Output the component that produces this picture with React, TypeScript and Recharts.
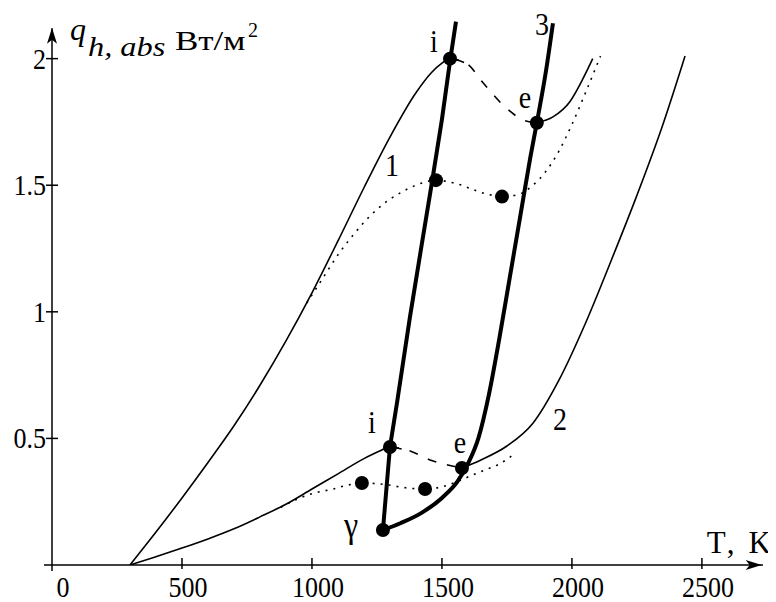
import React from 'react';
import { ComposedChart, Line, Scatter, XAxis, YAxis, ReferenceLine, ReferenceDot } from 'recharts';

// T (K), q (W/m^2) pairs
const curve1Left = [[300,0],[400,0.13],[500,0.265],[600,0.405],[700,0.55],[800,0.71],[900,0.885],[1000,1.075],[1100,1.28],[1200,1.49],[1300,1.69],[1400,1.865],[1460,1.945],[1500,1.982],[1531,2.0],[1585,1.985]];
const curve1Link = [[1531,2.0],[1596,1.98],[1658,1.905],[1742,1.81],[1819,1.755],[1865,1.747]];
const curve1Right = [[1865,1.747],[1927,1.77],[1992,1.83],[2042,1.92],[2080,2.0]];
const curve1Dotted = [[980,1.035],[1040,1.13],[1100,1.225],[1160,1.305],[1220,1.375],[1280,1.43],[1340,1.47],[1400,1.50],[1477,1.52],[1542,1.51],[1673,1.465],[1731,1.455],[1790,1.462],[1850,1.50],[1900,1.555],[1950,1.635],[2000,1.74],[2050,1.86],[2110,2.01]];

const curve2Left = [[300,0],[400,0.033],[500,0.067],[600,0.103],[700,0.143],[800,0.19],[900,0.24],[1000,0.30],[1100,0.36],[1200,0.42],[1260,0.45],[1300,0.466],[1345,0.458]];
const curve2Link = [[1300,0.466],[1365,0.455],[1454,0.415],[1577,0.383]];
const curve2Right = [[1577,0.383],[1650,0.415],[1750,0.47],[1850,0.56],[1950,0.73],[2050,0.95],[2150,1.2],[2250,1.46],[2350,1.74],[2435,2.01]];
const curve2Dotted = [[880,0.228],[942,0.26],[1004,0.283],[1081,0.30],[1135,0.315],[1192,0.324],[1280,0.318],[1360,0.305],[1435,0.30],[1504,0.31],[1560,0.33],[1619,0.356],[1665,0.375],[1723,0.40],[1780,0.44]];

const line3A = [[1273,0.138],[1300,0.466],[1327,0.64],[1377,0.98],[1419,1.245],[1462,1.514],[1500,1.76],[1531,1.99],[1554,2.146]];
const line3B = [[1273,0.138],[1340,0.165],[1420,0.205],[1500,0.265],[1560,0.33],[1600,0.40],[1640,0.50],[1680,0.67],[1720,0.89],[1760,1.13],[1800,1.37],[1840,1.61],[1865,1.747],[1900,1.95],[1927,2.14]];

const markers = [[1531,2.0],[1865,1.747],[1477,1.52],[1731,1.455],[1300,0.466],[1577,0.383],[1192,0.324],[1435,0.30],[1273,0.138]];

const curveLabels: [string, number, number][] = [
  ['i',1469,2.028],['e',1819,1.806],['3',1885,2.095],['1',1308,1.535],
  ['i',1231,0.522],['e',1569,0.443],['2',1954,0.534],['γ',1150,0.111],
];

const xTicks = [0,500,1000,1500,2000,2500];
const yTicks = [0,0.5,1,1.5,2];

const FONT = "'Liberation Serif', 'Times New Roman', serif";
const pts = (a: number[][]) => a.map(([T, q]) => ({ T, q }));

const XTick = (props: any) => {
  const { x, y, payload } = props;
  const v = payload.value;
  return (
    <g>
      {v === 0
        ? <line x1={x} x2={x} y1={y} y2={y + 6} stroke="#000" strokeWidth={1.5} />
        : <line x1={x} x2={x} y1={y - 7} y2={y + 4} stroke="#000" strokeWidth={1.5} />}
      <text transform={`translate(${x + (v === 0 ? 11 : 6)},${y + 32}) scale(1,1.15)`} textAnchor="middle" fontFamily={FONT} fontSize={26} fill="#000">{v}</text>
    </g>
  );
};

const YTick = (props: any) => {
  const { x, y, payload } = props;
  const v = payload.value;
  if (v === 0) return <line x1={x - 8} x2={x} y1={y} y2={y} stroke="#000" strokeWidth={1.5} />;
  return (
    <g>
      <line x1={x - 6} x2={x + 6} y1={y} y2={y} stroke="#000" strokeWidth={1.5} />
      <text transform={`translate(${x - 6},${y + 10}) scale(1,1.15)`} textAnchor="end" fontFamily={FONT} fontSize={26} fill="#000">{String(v)}</text>
    </g>
  );
};

const thin = { stroke: '#000', strokeWidth: 1.6, dot: false, activeDot: false, isAnimationActive: false } as any;

export default function App() {
  return (
    <ComposedChart width={768} height={594} margin={{ top: 0, right: 13, bottom: 0, left: 0 }}>
      <XAxis type="number" dataKey="T" domain={[0, 2735]} ticks={xTicks} interval={0} height={37}
        axisLine={{ stroke: '#000', strokeWidth: 1.5 }} tickLine={false} tickSize={0} tickMargin={0} tick={<XTick />} allowDataOverflow />
      <YAxis type="number" dataKey="q" domain={[0, 2.2]} ticks={yTicks} interval={0} width={44}
        axisLine={false} tickLine={false} tickSize={0} tickMargin={0} tick={<YTick />} allowDataOverflow />
      <ReferenceLine segment={[{ x: 0, y: 0 }, { x: 0, y: 2.12 }]} stroke="#000" strokeWidth={1.5} />
      <ReferenceDot x={0} y={2.122} shape={(p: any) => (
        <polygon points={`${p.cx},${p.cy} ${p.cx - 5},${p.cy + 16} ${p.cx},${p.cy + 12} ${p.cx + 5},${p.cy + 16}`} fill="#000" />
      )} />
      <ReferenceDot x={2730} y={0} shape={(p: any) => (
        <polygon points={`${p.cx},${p.cy} ${p.cx - 16},${p.cy - 5} ${p.cx - 12},${p.cy} ${p.cx - 16},${p.cy + 5}`} fill="#000" />
      )} />

      <Line data={pts(curve1Left)} dataKey="q" type="monotone" {...thin} />
      <Line data={pts(curve1Link)} dataKey="q" type="monotone" {...thin} strokeDasharray="9 11" />
      <Line data={pts(curve1Right)} dataKey="q" type="monotone" {...thin} />
      <Line data={pts(curve1Dotted)} dataKey="q" type="monotone" {...thin} strokeDasharray="2 6" />

      <Line data={pts(curve2Left)} dataKey="q" type="monotone" {...thin} />
      <Line data={pts(curve2Link)} dataKey="q" type="monotone" {...thin} strokeDasharray="9 11" />
      <Line data={pts(curve2Right)} dataKey="q" type="monotone" {...thin} />
      <Line data={pts(curve2Dotted)} dataKey="q" type="monotone" {...thin} strokeDasharray="2 6" />

      <Line data={pts(line3A)} dataKey="q" type="linear" {...thin} strokeWidth={4} />
      <Line data={pts(line3B)} dataKey="q" type="monotone" {...thin} strokeWidth={4} />

      <Scatter data={pts(markers)} dataKey="q" isAnimationActive={false}
        shape={(p: any) => <circle cx={p.cx} cy={p.cy} r={7} fill="#000" />} />

      {curveLabels.map(([t, T, q], i) => (
        <ReferenceDot key={i} x={T} y={q} shape={(p: any) => (
          <text transform={`translate(${p.cx},${p.cy}) scale(1,1.1)`} textAnchor="middle" fontFamily={FONT} fontSize={t === 'γ' ? 32 : 28} fill="#000">{t}</text>
        )} />
      ))}

      <ReferenceDot x={69} y={2.075} shape={(p: any) => (
        <g fontFamily={FONT} fill="#000">
          <text x={p.cx} y={p.cy} fontSize={32} fontStyle="italic">q</text>
          <text transform={`translate(${p.cx + 18},${p.cy + 16}) scale(1.2,1)`} fontSize={27} fontStyle="italic">h, abs</text>
          <text transform={`translate(${p.cx + 105},${p.cy + 10}) scale(1.25,1)`} fontSize={28}>Вт/м</text>
          <text x={p.cx + 178} y={p.cy - 3} fontSize={20}>2</text>
        </g>
      )} />
      <ReferenceDot x={2519} y={0.047} shape={(p: any) => (
        <text x={p.cx} y={p.cy} fontFamily={FONT} fontSize={31} fill="#000" textLength={64} lengthAdjust="spacing">T, K</text>
      )} />
    </ComposedChart>
  );
}
